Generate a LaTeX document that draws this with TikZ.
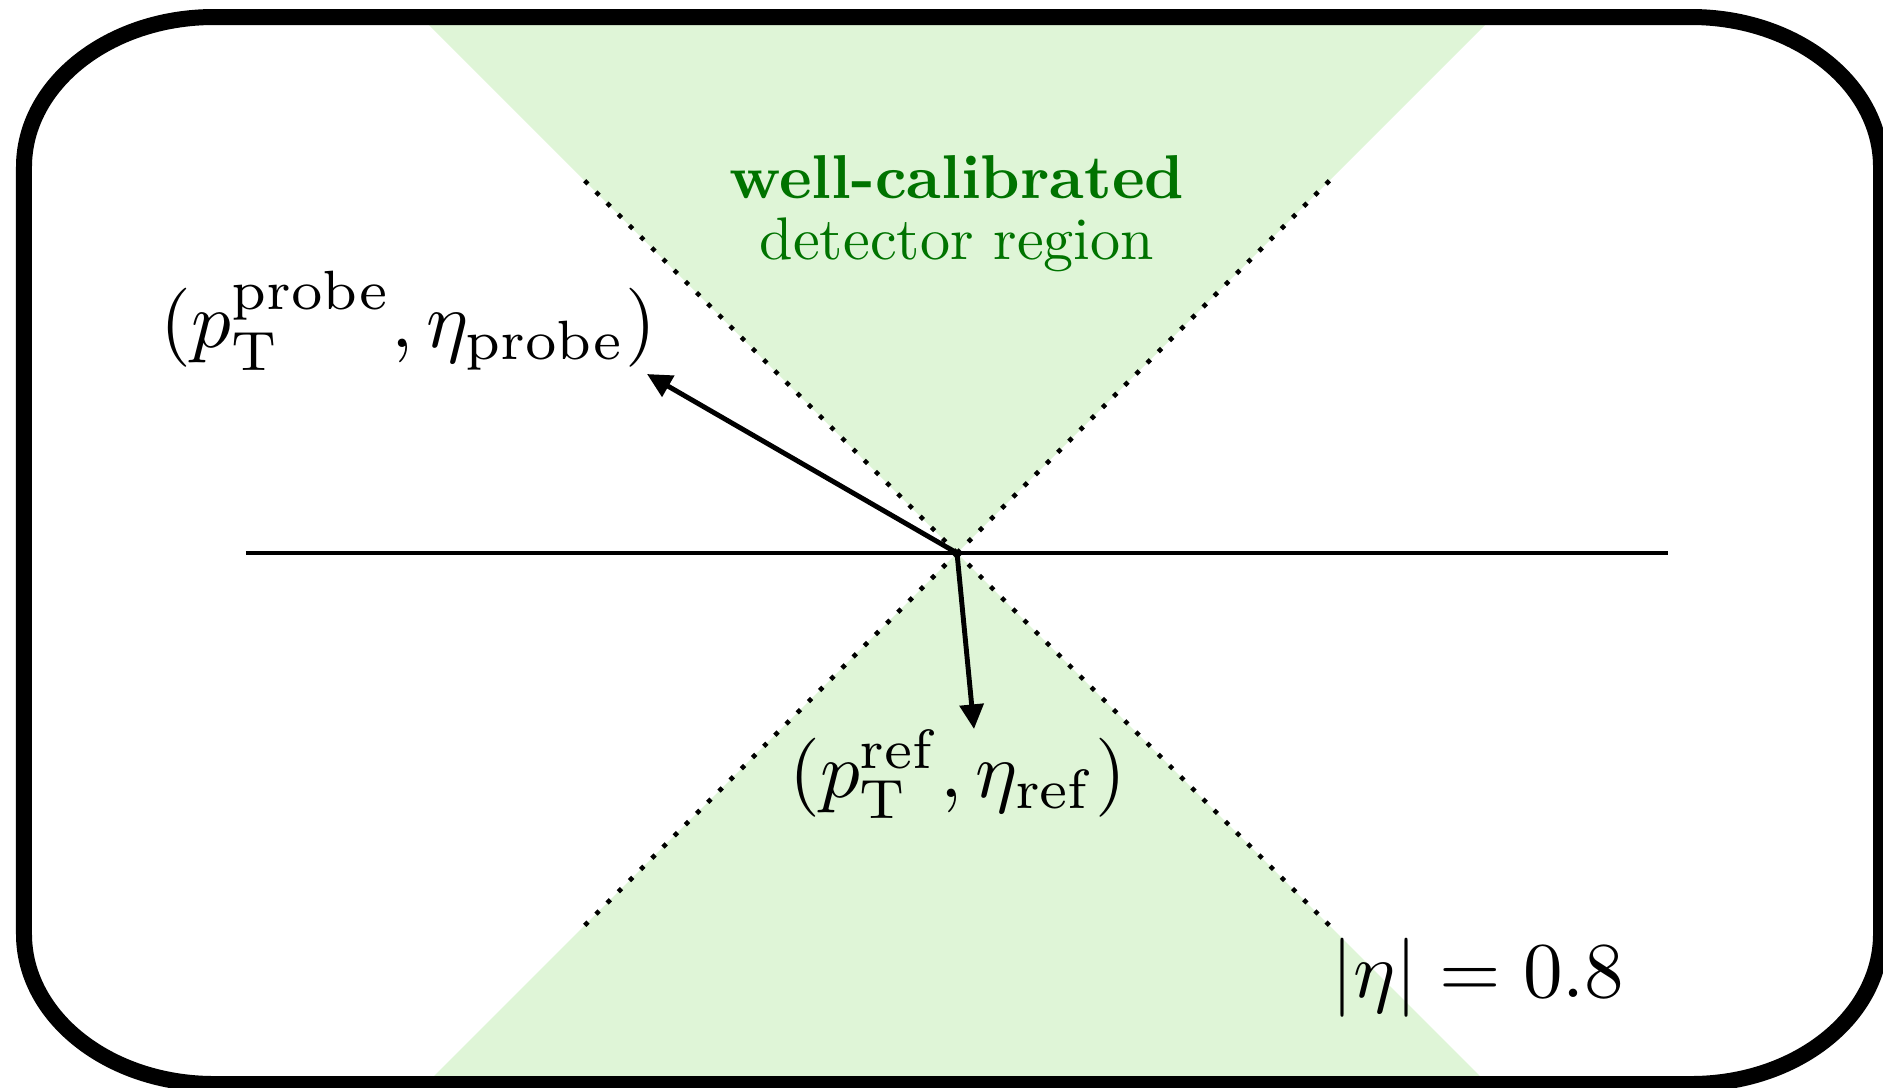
\documentclass[tikz,border=0pt]{standalone}
\usepackage{amsmath}
\usetikzlibrary{arrows.meta}
\definecolor{calibfill}{RGB}{223,245,215}
\definecolor{calibtext}{RGB}{0,115,0}

\begin{document}
\begin{tikzpicture}[
  lbl/.style={scale=2.25, inner sep=0pt},
  arr/.style={-{Triangle[length=7pt,width=6.7pt]}, line width=1.4pt},
  cone/.style={line width=1.3pt, dash pattern=on 1.3pt off 3.2pt},
  region/.style={scale=1.71, font=\fontsize{10}{10.2}\selectfont, text=calibtext, align=center}
]
\useasboundingbox (-9.57,-5.34) rectangle (9.26,5.53);
% well-calibrated cones
\fill[calibfill] (0,0) -- (-5.4,5.4) -- (5.4,5.4) -- cycle;
\fill[calibfill] (0,0) -- (-5.4,-5.4) -- (5.4,-5.4) -- cycle;
\coordinate (O) at (0,0);
\foreach \a/\n in {45/ur,135/ul,-135/ll,-45/lr}{
  \coordinate (c\n) at (\a:5.3);
  \draw[cone] (O) -- (c\n);
}
% beam line
\coordinate (beamL) at (-7.11,0);
\coordinate (beamR) at (7.11,0);
\draw[line width=1.4pt] (beamL) -- (beamR);
% frame
\draw[line width=4.55pt] (-7.43,5.36) -- (7.34,5.36)
  arc[start angle=90, end angle=0, x radius=1.9, y radius=1.5] -- (9.24,-3.81)
  arc[start angle=0, end angle=-90, x radius=1.9, y radius=1.5] -- (-7.43,-5.31)
  arc[start angle=270, end angle=180, x radius=1.9, y radius=1.5] -- (-9.33,3.86)
  arc[start angle=180, end angle=90, x radius=1.9, y radius=1.5] -- cycle;
\node[region] (calib) at (0,3.39) {{\fontsize{10.3}{10.2}\selectfont\textbf{well-calibrated}}\\detector region};
\node[lbl, anchor=south east] (probe) at (-2.99,1.81) {$(p_\mathrm{T}^\mathrm{probe}, \eta_\mathrm{probe})$};
\coordinate (probetip) at (-3.10,1.79);
\draw[arr] (O) -- (probetip);
\node[lbl, anchor=base] (ref) at (0.01,-2.44) {$(p_\mathrm{T}^\mathrm{ref}, \eta_\mathrm{ref})$};
\coordinate (reftip) at (0.17,-1.76);
\draw[arr] (O) -- (reftip);
\node[lbl, anchor=base] (etacut) at (5.21,-4.44) {$|\eta| = 0.8$};
\end{tikzpicture}
\end{document}
